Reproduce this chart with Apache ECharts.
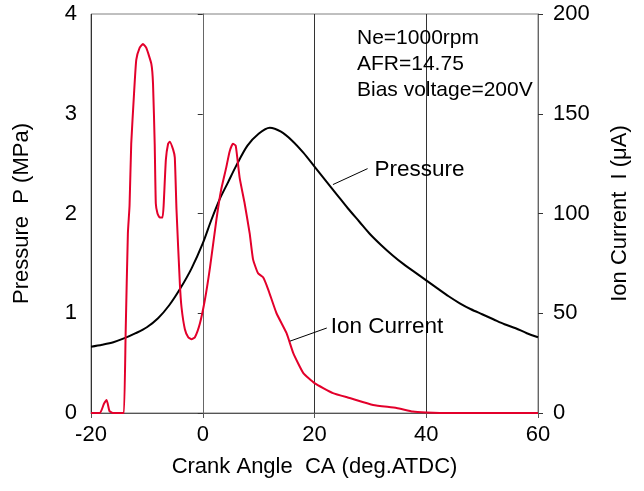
<!DOCTYPE html>
<html>
<head>
<meta charset="utf-8">
<script src="https://cdn.jsdelivr.net/npm/echarts@6/dist/echarts.min.js"></script>
<style>
html,body{margin:0;padding:0;background:#fff;}
#c{width:644px;height:491px;}
</style>
</head>
<body>
<div id="c"></div>
<script>
// Crank angle (deg ATDC) and pressure (MPa)
var pressureCA = [-20,-18,-16,-14,-12,-10,-8,-6,-4,-2,0,1.5,3,4.5,6,8,10,12,14,16,18,20,22,24,26,28,30,32,34,36,38,40,42,44,46,48,50,52,54,56,58,60];
var pressureVal = [0.665,0.685,0.71,0.75,0.80,0.86,0.95,1.08,1.25,1.45,1.70,1.93,2.14,2.31,2.48,2.68,2.80,2.86,2.82,2.73,2.61,2.47,2.33,2.19,2.05,1.92,1.79,1.68,1.58,1.49,1.41,1.33,1.25,1.17,1.10,1.04,0.99,0.94,0.89,0.85,0.80,0.76];

// Crank angle (deg ATDC) and ion current (uA)
var ionCA = [-20,-18.4,-17.7,-17.2,-16.7,-16.1,-14.5,-14.1,-13.8,-13.4,-13.1,-12.8,-12.3,-11.9,-11.3,-10.7,-10.1,-9.2,-8.9,-8.6,-8.4,-8.1,-7.7,-7.2,-7.0,-6.6,-6.2,-5.9,-5.3,-5.0,-4.7,-4.1,-3.8,-3.2,-2.6,-2.0,-1.4,-0.5,0.4,1.3,2.5,3.3,4.2,4.8,5.4,5.9,6.6,7.5,8.4,9.0,9.9,10.8,11.7,13.2,15.0,16.2,18.0,20.0,23.3,26.3,30.5,34.7,37.6,40.0,42.4,60];
var ionVal = [0,0,4.5,6.5,1,0,0,0,40,90,104,135,160,177,183,185,183,175,165,135,105,100,98,98,104,127,135,136,132,128,102,65,53,42,38,37,38,45,57,73,98,112,123,131,135,134,118,105,90,77,70,68,62,50,40,30,20,15,10,7.5,4,2.5,0.7,0.2,0,0];

// Axis ranges and ticks
var xTicks = [-20, 0, 20, 40, 60];
var pTicks = [0, 1, 2, 3, 4];
var iTicks = [0, 50, 100, 150, 200];

// Annotation text and leader lines (data coords)
var infoLines = ['Ne=1000rpm', 'AFR=14.75', 'Bias voltage=200V'];
var pressureLeader = [[23.3, 2.29], [29.5, 2.45]];
var pressureLabelAt = [30.9, 2.44];
var ionLeader = [[15.6, 36], [22.2, 42.6]];
var ionLabelAt = [22.9, 43];

var FONT = 'Liberation Sans, Arial, sans-serif';
var RED = '#e3002b';

function zip(a, b) { return a.map(function (v, i) { return [v, b[i]]; }); }

var chart = echarts.init(document.getElementById('c'), null, {renderer: 'canvas'});
var txt = {fontFamily: FONT, fontSize: 22, color: '#000'};
var tickTxt = {fontFamily: FONT, fontSize: 22, color: '#000'};

chart.setOption({
  animation: false,
  backgroundColor: '#fff',
  grid: {left: 91, right: 106, top: 14, bottom: 78, show: true, borderColor: '#808080', borderWidth: 1},
  xAxis: {
    type: 'value', min: xTicks[0], max: xTicks[xTicks.length - 1], interval: 20,
    name: 'Crank Angle  CA (deg.ATDC)', nameLocation: 'middle', nameGap: 43,
    nameTextStyle: txt,
    axisLine: {lineStyle: {color: '#555', width: 1}},
    axisTick: {show: true, length: 5, lineStyle: {color: '#555'}},
    axisLabel: Object.assign({margin: 11}, tickTxt),
    splitLine: {show: true, lineStyle: {color: '#333', width: 1}}
  },
  yAxis: [{
    type: 'value', min: pTicks[0], max: pTicks[pTicks.length - 1], interval: 1, position: 'left',
    name: 'Pressure  P (MPa)', nameLocation: 'middle', nameGap: 58, nameRotate: 90,
    nameTextStyle: txt,
    axisLine: {show: true, lineStyle: {color: '#666', width: 1}},
    axisTick: {show: true, length: 5, lineStyle: {color: '#333'}},
    axisLabel: Object.assign({margin: 14}, tickTxt),
    splitLine: {show: false}
  }, {
    type: 'value', min: iTicks[0], max: iTicks[iTicks.length - 1], interval: 50, position: 'right',
    name: 'Ion Current  I (\u03bcA)', nameLocation: 'middle', nameGap: 71, nameRotate: 90,
    nameTextStyle: txt,
    axisLine: {show: true, lineStyle: {color: '#666', width: 1}},
    axisTick: {show: true, length: 5, lineStyle: {color: '#333'}},
    axisLabel: Object.assign({margin: 15}, tickTxt),
    splitLine: {show: false}
  }],
  series: [{
    name: 'Pressure', type: 'line', yAxisIndex: 0, data: zip(pressureCA, pressureVal),
    showSymbol: false, smooth: 0.3, lineStyle: {color: '#000', width: 2}, z: 3,
    markLine: {silent: true, symbol: 'none', label: {show: false},
      lineStyle: {color: '#000', width: 1, type: 'solid'},
      data: [[{coord: pressureLeader[0]}, {coord: pressureLeader[1]}]]}
  }, {
    name: 'Ion Current', type: 'line', yAxisIndex: 1, data: zip(ionCA, ionVal),
    showSymbol: false, smooth: 0.15, lineStyle: {color: RED, width: 2}, z: 4,
    markLine: {silent: true, symbol: 'none', label: {show: false},
      lineStyle: {color: '#000', width: 1, type: 'solid'},
      data: [[{coord: ionLeader[0]}, {coord: ionLeader[1]}]]}
  }]
});

var pp = chart.convertToPixel({xAxisIndex: 0, yAxisIndex: 0}, pressureLabelAt);
var ip = chart.convertToPixel({xAxisIndex: 0, yAxisIndex: 1}, ionLabelAt);
chart.setOption({
  graphic: [
    {type: 'text', left: 357, top: 25, style: {text: infoLines.join('\n'), fontFamily: FONT, fontSize: 21, lineHeight: 26, fill: '#000'}},
    {type: 'text', x: pp[0] - 1, y: pp[1], style: {text: 'Pressure', fontFamily: FONT, fontSize: 22.5, fill: '#000', verticalAlign: 'middle'}},
    {type: 'text', x: ip[0], y: ip[1], style: {text: 'Ion Current', fontFamily: FONT, fontSize: 22.5, fill: '#000', verticalAlign: 'middle'}}
  ]
});
</script>
</body>
</html>
